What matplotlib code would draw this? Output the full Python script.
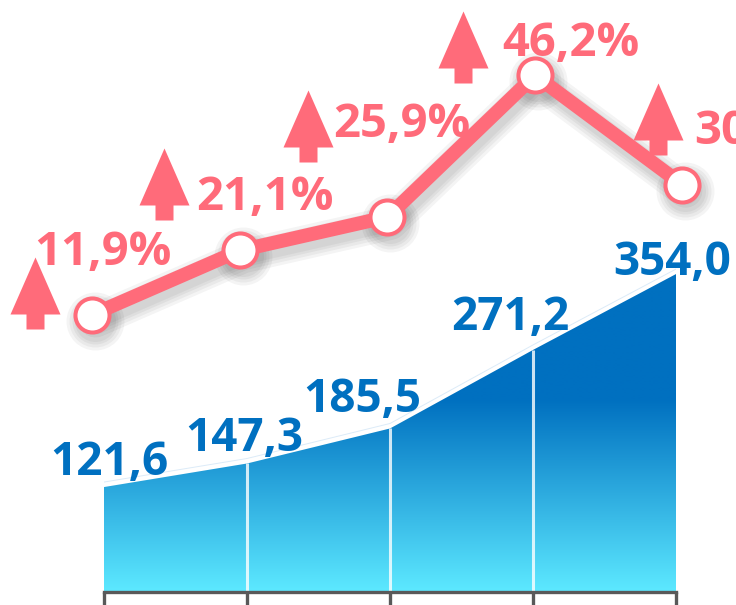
import matplotlib
matplotlib.use("Agg")
import matplotlib.pyplot as plt
import matplotlib.transforms as mtransforms
from matplotlib.path import Path
import numpy as np

# data
years = [0, 1, 2, 3, 4]
volume = [121.6, 147.3, 185.5, 271.2, 354.0]
growth = [11.9, 21.1, 25.9, 46.2, 30.5]

vol_labels = ["121,6", "147,3", "185,5", "271,2", "354,0"]
growth_labels = ["11,9%", "21,1%", "25,9%", "46,2%", "30,5%"]

# label offsets in pixels (dx, dy up), layout only
vol_offsets = [(5, 12), (-3, 12), (-28, 16), (-23, 20), (-4, -1)]
growth_offsets = [(-58, 50), (-44, 40), (-54, 80), (-33, 19), (12, 41)]
arrow_offsets = [(-57, 22), (-76, 66), (-79, 91), (-72, 28), (-24, 66)]

PINK = '#FF6B7A'
BLUE = '#0070C0'
CYAN = np.array([0x5C, 0xE8, 0xFF]) / 255
DARK = np.array([0x00, 0x70, 0xC0]) / 255

plt.rcParams['font.family'] = ['Open Sans', 'DejaVu Sans']

W, H = 736, 605
fig = plt.figure(figsize=(W / 100, H / 100), dpi=100)

# ---- area (volume) ----
ax = fig.add_axes([104 / W, 13 / H, 572 / W, 592 / H])
ax.set_xlim(0, 4)
ax.set_ylim((598.5 - 592) / 0.9165, 598.5 / 0.9165)
ax.patch.set_alpha(0)

poly = ax.fill_between(years, 0, volume, color='none', lw=0)
vals = np.linspace(0, max(volume), 300)
t = np.clip((vals - 9) / (217 - 9), 0, 1)[:, None]
grad = CYAN * (1 - t) + DARK * t
img = ax.imshow(grad[:, None, :], extent=[0, 4, 0, max(volume)],
                origin='lower', aspect='auto', interpolation='bilinear')
img.set_clip_path(poly.get_paths()[0], transform=ax.transData)

# thin light edge just above the area
edge_tr = mtransforms.offset_copy(ax.transData, fig=fig, x=0, y=5, units='dots')
ax.plot(years, volume, color='#DCEBF8', lw=0.7, transform=edge_tr)

# white separators
ax.vlines(years[1:-1], 0, volume[1:-1], color='white', lw=2.2, alpha=0.8)

for i, (v, lab) in enumerate(zip(volume, vol_labels)):
    dx, dy = vol_offsets[i]
    ax.annotate(lab, (years[i], v), xytext=(dx, dy), textcoords='offset pixels',
                ha='center', va='baseline', color=BLUE, fontsize=33,
                fontweight='bold', annotation_clip=False)

for s in ['top', 'left', 'right']:
    ax.spines[s].set_visible(False)
ax.spines['bottom'].set_color('#595959')
ax.spines['bottom'].set_linewidth(2.4)
ax.set_xticks(years)
ax.set_xticklabels([])
ax.set_yticks([])
ax.tick_params(axis='x', length=12, width=2.4, color='#595959', direction='out')

# ---- line (growth) ----
ax2 = fig.add_axes([92.5 / W, 0, 590 / W, 1])
ax2.set_xlim(0, 4)
ax2.set_ylim((397.6 - 605) / 6.977, 397.6 / 6.977)
ax2.axis('off')
ax2.patch.set_alpha(0)

shadow_tr = mtransforms.offset_copy(ax2.transData, fig=fig, x=3, y=-6, units='dots')
for lw in [34, 28, 22, 17]:
    ax2.plot(years, growth, color='black', alpha=0.045, lw=lw * 0.72,
             solid_capstyle='round', solid_joinstyle='round',
             transform=shadow_tr, clip_on=False)
    ax2.plot(years, growth, 'o', color='black', alpha=0.045, ms=(lw + 24) * 0.72,
             mew=0, transform=shadow_tr, clip_on=False)

ax2.plot(years, growth, color=PINK, lw=10, solid_joinstyle='miter', clip_on=False)
ax2.plot(years, growth, 'o', ms=24.5, mfc='white', mec=PINK, mew=2.9, clip_on=False)

arrow = Path([(0, 36), (25, -21), (9, -21), (9, -36), (-9, -36), (-9, -21),
              (-25, -21), (0, 36)],
             [Path.MOVETO] + [Path.LINETO] * 6 + [Path.CLOSEPOLY])

for i, (g, lab) in enumerate(zip(growth, growth_labels)):
    dx, dy = arrow_offsets[i]
    tr = mtransforms.offset_copy(ax2.transData, fig=fig, x=dx, y=dy, units='dots')
    ax2.plot([years[i]], [g], marker=arrow, ms=51.84, color=PINK, mew=0,
             linestyle='none', transform=tr, clip_on=False)
    dx, dy = growth_offsets[i]
    ax2.annotate(lab, (years[i], g), xytext=(dx, dy), textcoords='offset pixels',
                 ha='left', va='baseline', color=PINK, fontsize=34,
                 fontweight='bold', annotation_clip=False)

fig.savefig('out.png', dpi=100)
